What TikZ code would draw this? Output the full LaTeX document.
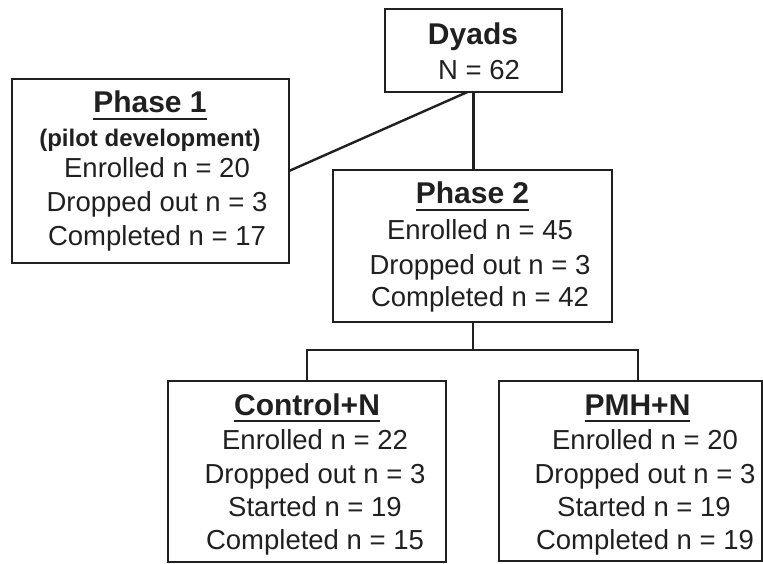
\documentclass[tikz,border=0pt]{standalone}
\usepackage{fontspec}
\setmainfont{Liberation Sans}
\definecolor{ink}{RGB}{32,32,32}
\newcommand\hdrul[1]{\leavevmode\setbox0=\hbox{#1}\rlap{\rule[-7pt]{\wd0}{2.2pt}}\box0}
\begin{document}
\begin{tikzpicture}[x=1pt,y=-1pt,
 box/.style={draw=ink,line width=2.8pt,inner sep=0pt,outer sep=0pt,rectangle},
 conn/.style={draw=ink,line width=2.4pt},
 body/.style={anchor=base,inner sep=0pt,text=ink,font=\fontsize{27.5}{33}\selectfont},
 head/.style={anchor=base,inner sep=0pt,text=ink,font=\fontsize{30}{36}\selectfont\bfseries},
 sub/.style={anchor=base,inner sep=0pt,text=ink,font=\fontsize{24}{28}\selectfont\bfseries}]
\useasboundingbox (0,0) rectangle (763,564);
% boxes
\node[box,minimum width=177pt,minimum height=83pt] (dy) at (473.5,50.5) {};
\node[box,minimum width=277pt,minimum height=184pt] (p1) at (150.5,171) {};
\node[box,minimum width=279pt,minimum height=152pt] (p2) at (472.5,246) {};
\node[box,minimum width=278pt,minimum height=181pt] (cn) at (307,471.5) {};
\node[box,minimum width=263pt,minimum height=180pt] (pm) at (630.5,471) {};
% connectors
\draw[conn] (p1.east) -- ([xshift=-6pt]dy.south);
\draw[conn] (dy.south) -- (dy.south |- p2.north);
\coordinate (jn) at (473,350);
\draw[conn] (p2.south -| jn) -- (jn);
\draw[conn] (cn.north) |- (jn) -| ([xshift=7.5pt]pm.north);
% Dyads
\node[head] (dyt) at (473,45) {Dyads};
\node[body] (dyn) at (479,80) {N = 62};
% Phase 1
\node[head] (p1t) at (150,113) {\hdrul{Phase 1}};
\node[sub] (p1s) at (150,147) {(pilot development)};
\node[body] (p1a) at (157,178) {Enrolled n = 20};
\node[body] (p1b) at (157,212) {Dropped out n = 3};
\node[body] (p1c) at (157,245) {Completed n = 17};
% Phase 2
\node[head] (p2t) at (472.5,204) {\hdrul{Phase 2}};
\node[body] (p2a) at (480,240) {Enrolled n = 45};
\node[body] (p2b) at (480,274) {Dropped out n = 3};
\node[body] (p2c) at (480,306) {Completed n = 42};
% Control+N
\node[head] (cnt) at (307,415) {\hdrul{Control+N}};
\node[body] (cna) at (315,449) {Enrolled n = 22};
\node[body] (cnb) at (315,483) {Dropped out n = 3};
\node[body] (cnc) at (315,516) {Started n = 19};
\node[body] (cnd) at (315,549) {Completed n = 15};
% PMH+N
\node[head] (pmt) at (637.5,415) {\hdrul{PMH+N}};
\node[body] (pma) at (645,449) {Enrolled n = 20};
\node[body] (pmb) at (645,483) {Dropped out n = 3};
\node[body] (pmc) at (644,516) {Started n = 19};
\node[body] (pmd) at (645,549) {Completed n = 19};
\end{tikzpicture}
\end{document}
